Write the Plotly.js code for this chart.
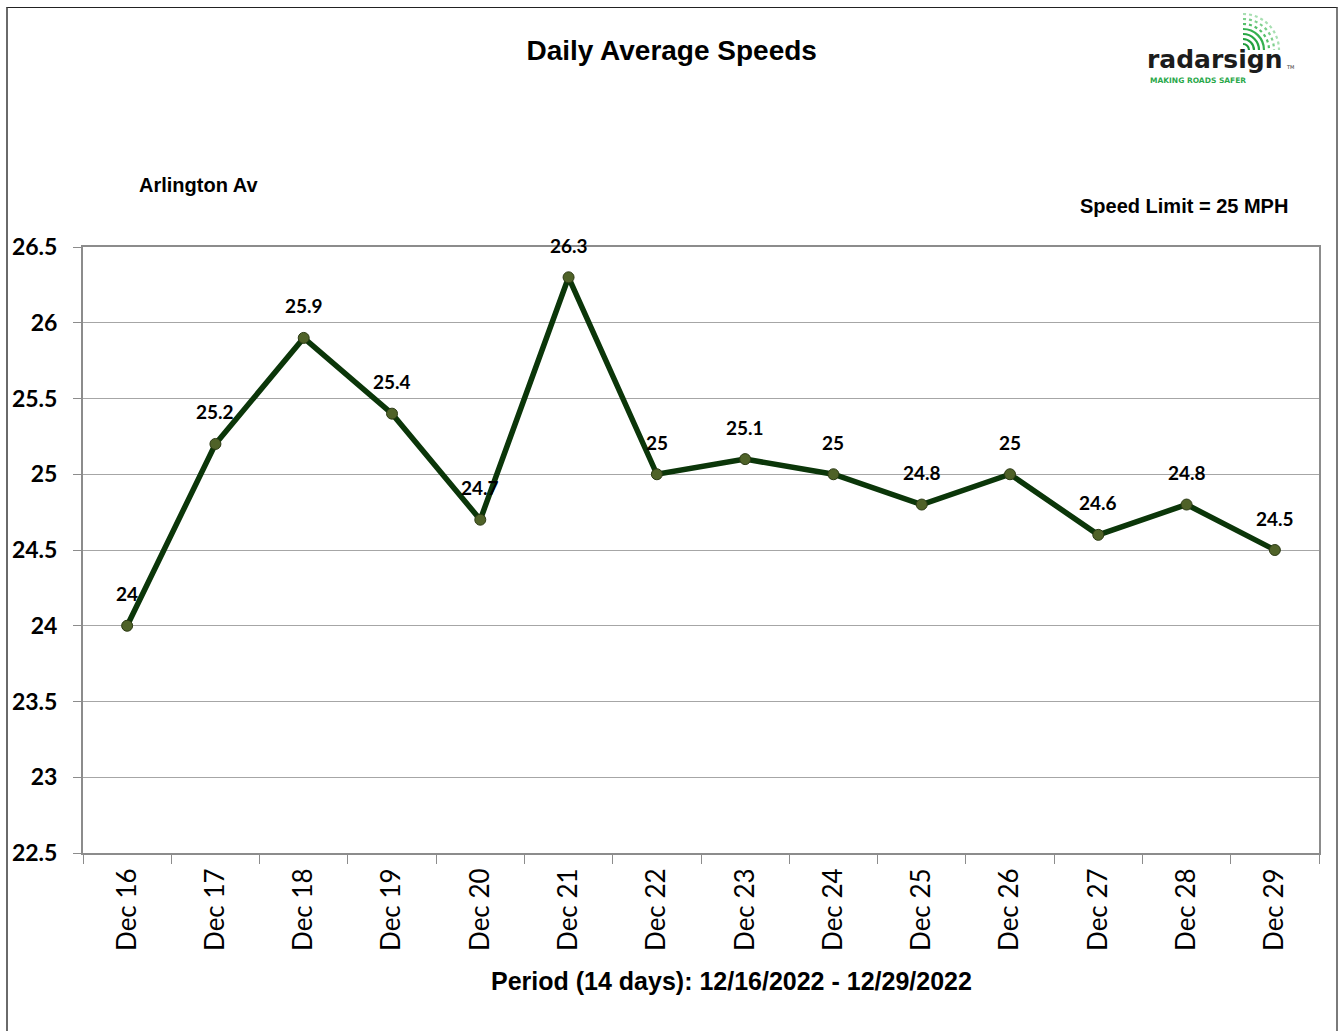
<!DOCTYPE html>
<html><head><meta charset="utf-8">
<script src="https://cdn.plot.ly/plotly-3.0.1.min.js"></script>
<style>
html,body{margin:0;padding:0;background:#fff;overflow:hidden;}
#chart{width:1338px;height:1031px;}
#frame{position:absolute;left:6px;top:7px;width:1328px;height:1040px;border-left:2px solid #6a6a6a;border-top:1px solid #222;border-right:2px solid #7a7a7a;pointer-events:none;}
</style>
</head><body>
<div id="chart"></div><div id="frame"></div>
<script>
const days = ['Dec 16','Dec 17','Dec 18','Dec 19','Dec 20','Dec 21','Dec 22','Dec 23','Dec 24','Dec 25','Dec 26','Dec 27','Dec 28','Dec 29'];
const avgSpeed = [24, 25.2, 25.9, 25.4, 24.7, 26.3, 25, 25.1, 25, 24.8, 25, 24.6, 24.8, 24.5];
const yTickVals = [22.5, 23, 23.5, 24, 24.5, 25, 25.5, 26, 26.5];
const chartTitle = 'Daily Average Speeds';
const locationName = 'Arlington Av';
const speedLimitText = 'Speed Limit = 25 MPH';
const xTitle = 'Period (14 days): 12/16/2022 - 12/29/2022';

const W = 1338, H = 1031;
const M = {l: 83, r: 19, t: 247, b: 178};
const pw = W - M.l - M.r, ph = H - M.t - M.b;
const PX = px => (px - M.l) / pw;
const PY = py => (H - M.b - py) / ph;

const trace = {
  x: days, y: avgSpeed, type: 'scatter', mode: 'lines+markers',
  line: {color: '#0b3609', width: 5.5},
  marker: {size: 11, color: '#4f6228', line: {color: '#2b3a14', width: 1}},
  hoverinfo: 'x+y', showlegend: false, cliponaxis: false
};

const annotations = days.map((d, i) => ({
  x: d, y: avgSpeed[i], xref: 'x', yref: 'y', text: String(avgSpeed[i]),
  showarrow: false, yshift: 32, font: {family: 'Lato', size: 19, weight: 'bold', color: '#000'}
}));
annotations.push(
  {xref: 'paper', yref: 'paper', x: PX(137), y: PY(185), xanchor: 'left', yanchor: 'middle',
   text: '<b>' + locationName + '</b>', showarrow: false, font: {family: 'Liberation Sans', size: 20, color: '#000'}},
  {xref: 'paper', yref: 'paper', x: PX(1290), y: PY(206), xanchor: 'right', yanchor: 'middle',
   text: '<b>' + speedLimitText + '</b>', showarrow: false, font: {family: 'Liberation Sans', size: 20, color: '#000'}},
  {xref: 'paper', yref: 'paper', x: PX(732), y: PY(981), xanchor: 'center', yanchor: 'middle',
   text: '<b>' + xTitle + '</b>', showarrow: false, font: {family: 'Liberation Sans', size: 25, color: '#000'}},
  {xref: 'paper', yref: 'paper', x: PX(1145), y: PY(59), xanchor: 'left', yanchor: 'middle',
   text: '<b>radarsign</b>', showarrow: false, font: {family: 'DejaVu Sans', size: 25, color: '#1c1c1c'}},
  {xref: 'paper', yref: 'paper', x: PX(1284), y: PY(67), xanchor: 'left', yanchor: 'middle',
   text: 'TM', showarrow: false, font: {family: 'DejaVu Sans', size: 5, color: '#333'}},
  {xref: 'paper', yref: 'paper', x: PX(1148), y: PY(80), xanchor: 'left', yanchor: 'middle',
   text: '<b>MAKING ROADS SAFER</b>', showarrow: false, font: {family: 'DejaVu Sans', size: 7.5, color: '#2aa84a'}}
);

// logo arcs (decoration)
const shapes = [];
const cx = 1243, cy = 50, k = 0.5523;
const radii = [6, 11, 16, 21, 26, 31, 36];
const arcColors = ['#1f9a3a', '#22a03e', '#27a744', '#35b050', '#55bf6a', '#7ecf8c', '#a8dfb2'];
radii.forEach((r, i) => {
  const p = (x, y) => PX(x) + ',' + PY(y);
  shapes.push({
    type: 'path', xref: 'paper', yref: 'paper',
    path: 'M' + p(cx, cy - r) + ' C' + p(cx + k * r, cy - r) + ' ' + p(cx + r, cy - k * r) + ' ' + p(cx + r, cy),
    line: {color: arcColors[i], width: 2.2, dash: i > 3 ? 'dot' : 'solid'}
  });
});

const layout = {
  width: W, height: H, margin: M,
  paper_bgcolor: '#fff', plot_bgcolor: '#fff',
  title: {text: '<b>' + chartTitle + '</b>', x: 0.502, xanchor: 'center', xref: 'container',
          y: 1 - 50 / H, yanchor: 'middle', yref: 'container',
          font: {family: 'Liberation Sans', size: 28, color: '#000'}},
  xaxis: {
    type: 'category', range: [-0.5, 13.5], tickson: 'boundaries', ticks: 'outside', ticklen: 9,
    tickcolor: '#8c8c8c', tickwidth: 1, tickangle: -90, ticklabelstandoff: 3,
    tickfont: {family: 'Lato', size: 26, color: '#000'},
    showline: true, mirror: true, linecolor: '#8c8c8c', linewidth: 2,
    showgrid: false, zeroline: false, fixedrange: true
  },
  yaxis: {
    range: [22.5, 26.5], tickvals: yTickVals, ticktext: yTickVals.map(v => String(v)),
    ticks: 'outside', ticklen: 8, tickcolor: '#8c8c8c', tickwidth: 1, ticklabelstandoff: 11,
    tickfont: {family: 'Lato', size: 23, weight: 'bold', color: '#000'},
    showline: true, mirror: true, linecolor: '#8c8c8c', linewidth: 2,
    showgrid: true, gridcolor: '#a6a6a6', gridwidth: 1, zeroline: false, fixedrange: true
  },
  annotations: annotations,
  shapes: shapes
};

Plotly.newPlot('chart', [trace], layout, {displayModeBar: false, staticPlot: true});
</script>
</body></html>
